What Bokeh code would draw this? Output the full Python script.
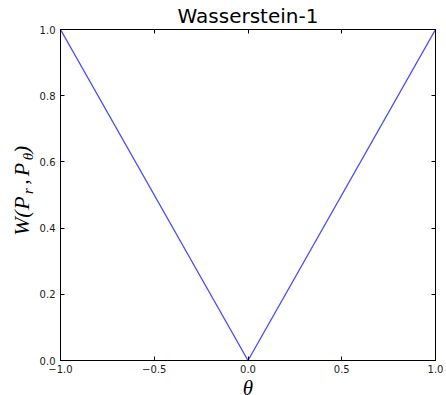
import math

from bokeh.plotting import figure
from bokeh.layouts import row, column
from bokeh.models import LinearAxis, FixedTicker, Range1d
from bokeh.core.properties import value
from bokeh.embed import file_html
from bokeh.resources import INLINE

# Wasserstein-1 distance between P_r and P_theta as a function of theta
theta = [-1.0, 0.0, 1.0]
w_dist = [1.0, 0.0, 1.0]

x_ticks = [-1.0, -0.5, 0.0, 0.5, 1.0]
x_tick_labels = ["\u22121.0", "\u22120.5", "0.0", "0.5", "1.0"]
y_ticks = [0.0, 0.2, 0.4, 0.6, 0.8, 1.0]
y_tick_labels = ["0.0", "0.2", "0.4", "0.6", "0.8", "1.0"]

title_text = "Wasserstein-1"
x_label_text = "\u03b8"

W, H = 446, 395
LABEL_W = 36          # strip on the left holding the y axis label
XLABEL_H = 19         # strip below holding the x axis label
MAIN_W = W - LABEL_W
MAIN_H = H - XLABEL_H

p = figure(
    width=MAIN_W, height=MAIN_H,
    output_backend="svg", toolbar_location=None,
    x_range=Range1d(-1.0, 1.0), y_range=Range1d(0.0, 1.0),
    min_border_left=22, min_border_right=11,
    min_border_top=28, min_border_bottom=16,
    background_fill_color="white", border_fill_color="white",
)
p.grid.visible = False
p.outline_line_color = "black"
p.outline_line_width = 1

tick_font = "DejaVu Sans"


def style_axis(ax, show_labels):
    ax.axis_line_color = "black"
    ax.major_tick_in = 4
    ax.major_tick_out = 0
    ax.major_tick_line_color = "black"
    ax.minor_tick_line_color = None
    ax.major_label_text_font = tick_font
    ax.major_label_text_font_size = "10px"
    ax.major_label_text_color = "#1a1a1a"
    if not show_labels:
        ax.major_label_text_font_size = "0px"
        ax.major_label_standoff = 0


xaxis = p.xaxis[0]
xaxis.ticker = FixedTicker(ticks=x_ticks)
xaxis.major_label_overrides = dict(zip(x_ticks, x_tick_labels))
style_axis(xaxis, True)
xaxis.major_label_standoff = 4

yaxis = p.yaxis[0]
yaxis.ticker = FixedTicker(ticks=y_ticks)
yaxis.major_label_overrides = dict(zip(y_ticks, y_tick_labels))
style_axis(yaxis, True)
yaxis.major_label_standoff = 5

top_axis = LinearAxis(ticker=FixedTicker(ticks=x_ticks),
                      major_label_overrides={t: "" for t in x_ticks})
style_axis(top_axis, False)
top_axis.axis_label = title_text
top_axis.axis_label_text_font = "DejaVu Sans"
top_axis.axis_label_text_font_style = "normal"
top_axis.axis_label_text_font_size = "20px"
top_axis.axis_label_text_color = "black"
top_axis.axis_label_standoff = 2
p.add_layout(top_axis, "above")

right_axis = LinearAxis(ticker=FixedTicker(ticks=y_ticks),
                        major_label_overrides={t: "" for t in y_ticks})
style_axis(right_axis, False)
p.add_layout(right_axis, "right")

p.line(theta, w_dist, line_color="#5050ff", line_width=1.4)


def text_strip(width, height):
    """Axis-free figure whose ranges are plain pixels of the strip."""
    f = figure(
        width=width, height=height,
        output_backend="svg", toolbar_location=None,
        x_axis_type=None, y_axis_type=None,
        x_range=Range1d(0, width), y_range=Range1d(0, height),
        min_border=0, outline_line_color=None,
        background_fill_color="white", border_fill_color="white",
    )
    f.grid.visible = False
    return f


# y axis label W(P_r, P_theta), set glyph by glyph so the subscripts sit low
lab = text_strip(LABEL_W, H)
label_start = H - 236
main_parts = ["W", "(", "P", ",", "P", ")"]
main_along = [10.0, 22.5, 33.5, 54.5, 67.0, 87.0]
sub_parts = ["r", "\u03b8"]
sub_along = [45.5, 80.0]

lab.text(x=[20.5] * len(main_parts),
         y=[label_start + a for a in main_along],
         text=main_parts, angle=math.pi / 2,
         text_align="center", text_baseline="middle",
         text_font=value("Liberation Serif"), text_font_style="italic",
         text_font_size="22px", text_color="black")
lab.text(x=[27.5] * len(sub_parts),
         y=[label_start + a for a in sub_along],
         text=sub_parts, angle=math.pi / 2,
         text_align="center", text_baseline="middle",
         text_font=value("Liberation Serif"), text_font_style="italic",
         text_font_size="15px", text_color="black")

# x axis label, centred under the frame
xlab = text_strip(MAIN_W, XLABEL_H)
xlab.text(x=[205], y=[8], text=[x_label_text],
          text_align="center", text_baseline="middle",
          text_font=value("Liberation Serif"), text_font_style="italic",
          text_font_size="21px", text_color="black")

layout = row(lab, column(p, xlab))
open("out.html", "w").write(file_html(layout, INLINE))
